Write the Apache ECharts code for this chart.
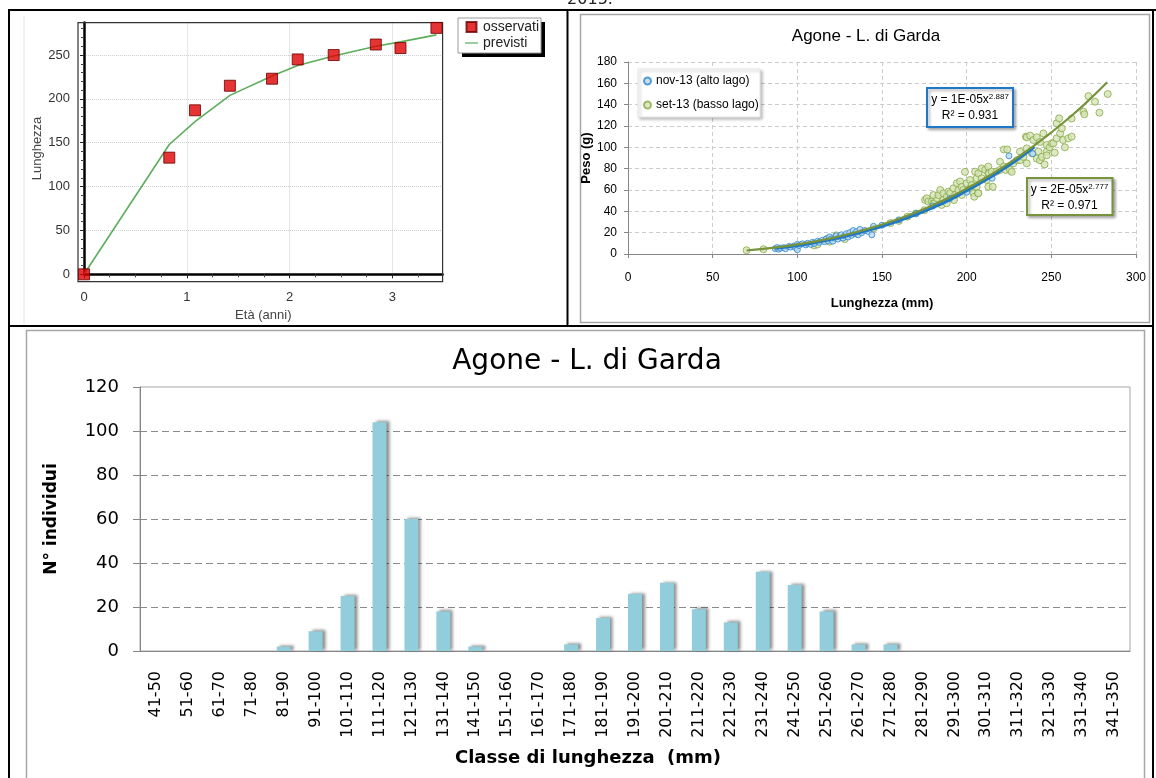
<!DOCTYPE html>
<html><head><meta charset="utf-8">
<script src="https://cdn.jsdelivr.net/npm/echarts@6/dist/echarts.min.js"></script>
<style>html,body{margin:0;padding:0;background:#fff;overflow:hidden}#c{width:1156px;height:778px}</style>
</head><body><div id="c"></div>
<script>
// ---- Growth chart (Età vs Lunghezza)
const ageObs = [0, 0.83, 1.08, 1.42, 1.83, 2.08, 2.43, 2.84, 3.08, 3.43];
const lenObs = [0, 133, 187, 215, 223, 245, 250, 262, 258, 281];
const agePred = [0, 0.83, 1.08, 1.42, 1.83, 2.08, 2.43, 2.84, 3.08, 3.43];
const lenPred = [0, 148, 174, 204, 226, 238, 249, 260, 265, 273];

// ---- Length-weight scatter
const blueLen = [87,88,89,90,92,93,95,96,98,99,100,100,101,103,105,106,108,109,110,112,113,115,116,117,118,119,120,121,122,123,124,125,126,127,128,129,130,131,132,133,134,135,136,137,138,140,142,144,145,150,160,170,180,190,200,215,225,239];
const blueW =   [5,6,4.5,5.5,6,5,7,6.5,7.5,6,4,9,8,9.5,8.5,10,9,11,10,12,11,13,11.5,14,12.5,16,14,12,15,17,14,16,18,15,17,19,16,20,17.5,22,19,21,18,23,20,22,21,18,26,27,32,38,45,52,58,71,92,94];
const greenLen = [70,80,110,112,118,119,123,128,135,145,155,160,165,170,175,175.4,176.4,177.4,179.4,180.3,180.9,182.4,180.4,183.4,184.4,186.3,186.3,185.2,188.2,188.3,189.3,190.3,192.2,192.5,193.2,194.2,195.1,196.1,197.1,197.1,198,199,200,202,202,203,204,204.5,205,205.9,205.9,206.7,206.9,206.9,208.9,208.9,210.9,211.8,212.8,212.8,212.8,213.2,214.8,215.4,217.7,219.7,219.7,222,222,223,224,225.6,226.6,227.6,229.6,231.5,231.5,233.5,235,235.5,235.5,235.5,237.5,238.5,239.4,241.4,241.4,242.4,243.3,243.3,244.4,245.3,246,247.3,247.3,247.3,249,250.2,251.2,252,253.1,253.1,254.6,255.2,256.2,257,258,260,262,262,269,269.5,271.9,275.8,278.4,283.3];
const greenW =   [3.5,4.5,8,9,14.5,11.5,17.5,14,19,24,29,31,35,38,41,50.7,52.2,49.1,49.1,47.5,47.5,52.2,55.3,55.3,60,56.9,50.7,46,47.5,53.8,58.5,57,61.6,50.6,55.3,66.3,60,68,63,55.3,60,77,66.3,69.4,61.6,64.7,57,53.7,77.2,71,63,57,75.6,56.9,80.3,71,78.8,69.4,81.9,75.6,63,75.6,77.2,63,77.3,78.8,86.5,82,98,78.8,98,78.8,77,85,88,88,96,91,110,85,99,109.4,111,94.4,106.9,109.4,89.5,96,105,88,91,113,84,102.2,96,92.5,100,103.8,103.8,95,108.4,122.5,127.2,113,117.8,106.9,100,108.4,127,110,133.4,131,148,142.8,132.5,150];
const blueTrendLen = [87,100,110,120,130,140,150,160,170,180,190,200,210,220,230,240];
const blueTrendW =   [5.4,8.0,10.6,13.7,17.3,21.4,25.9,31.2,37.0,43.5,50.8,59.3,68.2,78.0,88.5,100.4];
const greenTrendLen = [70,80,90,100,110,120,130,140,150,160,170,180,190,200,210,220,230,240,250,260,270,283];
const greenTrendW =   [3.3,4.8,6.7,9.0,11.6,14.8,18.5,22.8,27.6,33.0,39.1,45.8,53.2,61.4,70.3,80.0,90.5,101.8,114,127,141,161];

// ---- Histogram
const classes = ['41-50','51-60','61-70','71-80','81-90','91-100','101-110','111-120','121-130','131-140','141-150','151-160','161-170','171-180','181-190','191-200','201-210','211-220','221-230','231-240','241-250','251-260','261-270','271-280','281-290','291-300','301-310','311-320','321-330','331-340','341-350'];
const counts = [0,0,0,0,2,9,25,104,60,18,2,0,0,3,15,26,31,19,13,36,30,18,3,3,0,0,0,0,0,0,0];

const pairs = (a, b) => a.map((v, i) => [v, b[i]]);
const LS = 'Liberation Sans, Arial, sans-serif';
const DV = 'DejaVu Sans, Verdana, sans-serif';
const center = {textAlign: 'center', align: 'center', textVerticalAlign: 'middle', verticalAlign: 'middle'};

const chart = echarts.init(document.getElementById('c'), null, {renderer: 'canvas'});
chart.setOption({
  animation: false,
  backgroundColor: '#fff',
  textStyle: {fontFamily: LS},
  grid: [
    {left: 84, top: 22.6, width: 358.6, height: 251.7},
    {left: 628, top: 62, width: 508, height: 192},
    {left: 140, top: 387, width: 990, height: 264, show: true, borderColor: '#a6a6a6', borderWidth: 1}
  ],
  xAxis: [
    {gridIndex: 0, type: 'value', min: 0, max: 3.49, interval: 1, offset: 7,
     name: 'Età (anni)', nameLocation: 'middle', nameGap: 28,
     nameTextStyle: {fontSize: 13, color: '#444', fontFamily: LS},
     axisLine: {lineStyle: {color: '#000', width: 2.5}},
     axisTick: {length: 4, lineStyle: {color: '#222'}},
     minorTick: {show: true, splitNumber: 4, length: 3, lineStyle: {color: '#444'}},
     axisLabel: {fontSize: 13, color: '#333', margin: 10, showMaxLabel: false},
     splitLine: {show: true, showMinLine: false, showMaxLine: false, lineStyle: {color: '#cfcfcf', type: 'dotted'}}},
    {gridIndex: 1, type: 'value', min: 0, max: 300, interval: 50,
     name: 'Lunghezza (mm)', nameLocation: 'middle', nameGap: 43,
     nameTextStyle: {fontSize: 13, fontWeight: 'bold', color: '#000', fontFamily: LS},
     axisLine: {lineStyle: {color: '#868686'}},
     axisTick: {length: 4, lineStyle: {color: '#868686'}},
     axisLabel: {fontSize: 12, color: '#000', margin: 18},
     splitLine: {show: true, showMinLine: false, lineStyle: {color: '#cccccc', type: [4, 3]}}},
    {gridIndex: 2, type: 'category', data: classes,
     axisLine: {lineStyle: {color: '#868686'}},
     axisTick: {length: 6, interval: 0, lineStyle: {color: '#868686'}},
     axisLabel: {rotate: 90, interval: 0, fontSize: 16, color: '#000', margin: 20, fontFamily: DV},
     splitLine: {show: false}}
  ],
  yAxis: [
    {gridIndex: 0, type: 'value', min: 0, max: 287, interval: 50, offset: 6,
     name: 'Lunghezza', nameLocation: 'middle', nameGap: 32,
     nameTextStyle: {fontSize: 13, color: '#444', fontFamily: LS},
     axisLine: {show: true, lineStyle: {color: '#000', width: 2.5}},
     axisTick: {show: true, length: 4, lineStyle: {color: '#222'}},
     minorTick: {show: true, splitNumber: 5, length: 3, lineStyle: {color: '#444'}},
     axisLabel: {fontSize: 13, color: '#333', margin: 8, showMaxLabel: false},
     splitLine: {show: true, showMaxLine: false, lineStyle: {color: '#cfcfcf', type: 'dotted'}}},
    {gridIndex: 1, type: 'value', min: 0, max: 180, interval: 20,
     name: 'Peso (g)', nameLocation: 'middle', nameGap: 28,
     nameTextStyle: {fontSize: 13, fontWeight: 'bold', color: '#000', fontFamily: LS},
     axisLine: {show: true, lineStyle: {color: '#868686'}},
     axisTick: {show: true, length: 4, lineStyle: {color: '#868686'}},
     axisLabel: {fontSize: 12, color: '#000', margin: 11},
     splitLine: {show: true, lineStyle: {color: '#cccccc', type: [4, 3]}}},
    {gridIndex: 2, type: 'value', min: 0, max: 120, interval: 20,
     name: 'N° individui', nameLocation: 'middle', nameGap: 80,
     nameTextStyle: {fontSize: 17, fontWeight: 'bold', color: '#000', fontFamily: DV},
     axisLine: {show: true, lineStyle: {color: '#868686'}},
     axisTick: {show: true, length: 7, lineStyle: {color: '#868686'}},
     axisLabel: {fontSize: 18, color: '#000', margin: 21, fontFamily: DV},
     splitLine: {show: true, showMaxLine: false, lineStyle: {color: '#8a8a8a', type: [7, 4]}}}
  ],
  legend: [
    {data: [{name: 'osservati', icon: 'path://M0,0H10V10H0Z'}, {name: 'previsti', icon: 'path://M0,0H14V1.3H0Z'}],
     orient: 'vertical', left: 465, top: 20, padding: 0, itemGap: 2, itemWidth: 13, itemHeight: 10,
     textStyle: {fontSize: 14, color: '#222', fontFamily: LS}},
    {data: ['nov-13 (alto lago)', 'set-13 (basso lago)'],
     orient: 'vertical', left: 643, top: 75, padding: 0, itemGap: 12, itemWidth: 7, itemHeight: 7,
     textStyle: {fontSize: 12, color: '#000', fontFamily: LS}}
  ],
  graphic: [
    // table borders
    {type: 'line', z: 100, shape: {x1: 8, y1: 10, x2: 1156, y2: 10}, style: {stroke: '#000', lineWidth: 2}},
    {type: 'line', z: 100, shape: {x1: 9, y1: 10, x2: 9, y2: 778}, style: {stroke: '#000', lineWidth: 2}},
    {type: 'line', z: 100, shape: {x1: 1153, y1: 10, x2: 1153, y2: 778}, style: {stroke: '#000', lineWidth: 2}},
    {type: 'line', z: 100, shape: {x1: 567.5, y1: 10, x2: 567.5, y2: 326}, style: {stroke: '#000', lineWidth: 2}},
    {type: 'line', z: 100, shape: {x1: 8, y1: 326, x2: 1154, y2: 326}, style: {stroke: '#000', lineWidth: 2}},
    // chart frames
    {type: 'rect', z: -1, shape: {x: 580.5, y: 14.5, width: 569, height: 308}, style: {fill: 'none', stroke: '#a6a6a6', lineWidth: 1.5}},
    {type: 'rect', z: -1, shape: {x: 26.5, y: 330.5, width: 1118, height: 470}, style: {fill: 'none', stroke: '#a6a6a6', lineWidth: 1.5}},
    {type: 'line', z: -1, shape: {x1: 24, y1: 16, x2: 24, y2: 324}, style: {stroke: '#e4e4e4', lineWidth: 1}},
    // left plot frame
    {type: 'rect', z: 1, shape: {x: 78, y: 22.6, width: 364.6, height: 259.1}, style: {fill: 'none', stroke: '#333', lineWidth: 1.2}},
    // left legend box with shadow
    {type: 'rect', z: 1, shape: {x: 462, y: 22, width: 83, height: 35}, style: {fill: '#000'}},
    {type: 'rect', z: 2, shape: {x: 458, y: 18, width: 83, height: 35}, style: {fill: '#fff', stroke: '#9a9a9a', lineWidth: 1}},
    // right legend box
    {type: 'rect', z: 1, shape: {x: 638, y: 69, width: 122, height: 48},
     style: {fill: '#fff', stroke: '#e6e6e6', lineWidth: 1, shadowColor: 'rgba(0,0,0,0.25)', shadowBlur: 3, shadowOffsetX: 2, shadowOffsetY: 2}},
    // equation boxes
    {type: 'rect', z: 20, shape: {x: 927, y: 88, width: 86, height: 39},
     style: {fill: '#fff', stroke: '#1f77c8', lineWidth: 2, shadowColor: 'rgba(0,0,0,0.3)', shadowBlur: 3, shadowOffsetX: 2, shadowOffsetY: 2}},
    {type: 'text', z: 21, x: 970, y: 100,
     style: Object.assign({text: '{a|y = 1E-05x}{s|2.887}', rich: {a: {fontSize: 12, fontFamily: LS, fill: '#000', color: '#000'}, s: {fontSize: 8, fontFamily: LS, color: '#000', fill: '#000', verticalAlign: 'top', padding: [0, 0, 7, 0]}}}, center)},
    {type: 'text', z: 21, x: 970, y: 116,
     style: Object.assign({text: 'R² = 0.931', font: '12px ' + LS, fill: '#000'}, center)},
    {type: 'rect', z: 20, shape: {x: 1027, y: 178, width: 85.5, height: 37},
     style: {fill: '#fff', stroke: '#77933c', lineWidth: 2, shadowColor: 'rgba(0,0,0,0.3)', shadowBlur: 3, shadowOffsetX: 2, shadowOffsetY: 2}},
    {type: 'text', z: 21, x: 1069.5, y: 190,
     style: Object.assign({text: '{a|y = 2E-05x}{s|2.777}', rich: {a: {fontSize: 12, fontFamily: LS, fill: '#000', color: '#000'}, s: {fontSize: 8, fontFamily: LS, color: '#000', fill: '#000', verticalAlign: 'top', padding: [0, 0, 7, 0]}}}, center)},
    {type: 'text', z: 21, x: 1069.5, y: 206,
     style: Object.assign({text: 'R² = 0.971', font: '12px ' + LS, fill: '#000'}, center)},
    // titles
    {type: 'text', z: 21, x: 866, y: 36,
     style: Object.assign({text: 'Agone - L. di Garda', font: '17px ' + LS, fill: '#000'}, center)},
    {type: 'text', z: 21, x: 587, y: 362,
     style: Object.assign({text: 'Agone - L. di Garda', font: '28px ' + DV, fill: '#000'}, center)},
    {type: 'text', z: 21, x: 588, y: 758,
     style: Object.assign({text: 'Classe di lunghezza  (mm)', font: 'bold 18px ' + DV, fill: '#000'}, center)},
    {type: 'text', z: 21, x: 590, y: 0,
     style: Object.assign({text: '2015.', font: '16px ' + DV, fill: '#222'}, center)}
  ],
  series: [
    {name: 'previsti', type: 'line', xAxisIndex: 0, yAxisIndex: 0, data: pairs(agePred, lenPred),
     symbol: 'none', smooth: false, lineStyle: {color: '#5cae5c', width: 1.6}, itemStyle: {color: '#5cae5c'}, z: 3},
    {name: 'osservati', type: 'scatter', xAxisIndex: 0, yAxisIndex: 0, data: pairs(ageObs, lenObs),
     symbol: 'rect', symbolSize: 11, clip: false,
     itemStyle: {color: '#e00000', borderColor: '#6a0000', borderWidth: 1}, z: 5},
    {name: 'set-13 (basso lago)', type: 'scatter', xAxisIndex: 1, yAxisIndex: 1, data: pairs(greenLen, greenW),
     symbol: 'circle', symbolSize: 7,
     itemStyle: {color: '#d5e3b5', borderColor: '#8aaa48', borderWidth: 1}, z: 3},
    {name: 'nov-13 (alto lago)', type: 'scatter', xAxisIndex: 1, yAxisIndex: 1, data: pairs(blueLen, blueW),
     symbol: 'circle', symbolSize: 6,
     itemStyle: {color: '#bcd8ef', borderColor: '#2a86d0', borderWidth: 1}, z: 4},
    {name: 'trend nov-13', type: 'line', xAxisIndex: 1, yAxisIndex: 1, data: pairs(blueTrendLen, blueTrendW),
     symbol: 'none', smooth: true, lineStyle: {color: '#1f77c8', width: 3}, z: 5},
    {name: 'trend set-13', type: 'line', xAxisIndex: 1, yAxisIndex: 1, data: pairs(greenTrendLen, greenTrendW),
     symbol: 'none', smooth: true, lineStyle: {color: '#77933c', width: 2.2}, z: 6},
    {name: 'N° individui', type: 'bar', xAxisIndex: 2, yAxisIndex: 2, data: counts, barWidth: 14,
     itemStyle: {color: '#92cddc', shadowColor: 'rgba(0,0,0,0.45)', shadowBlur: 3, shadowOffsetX: 3, shadowOffsetY: -1}}
  ]
});
</script></body></html>
